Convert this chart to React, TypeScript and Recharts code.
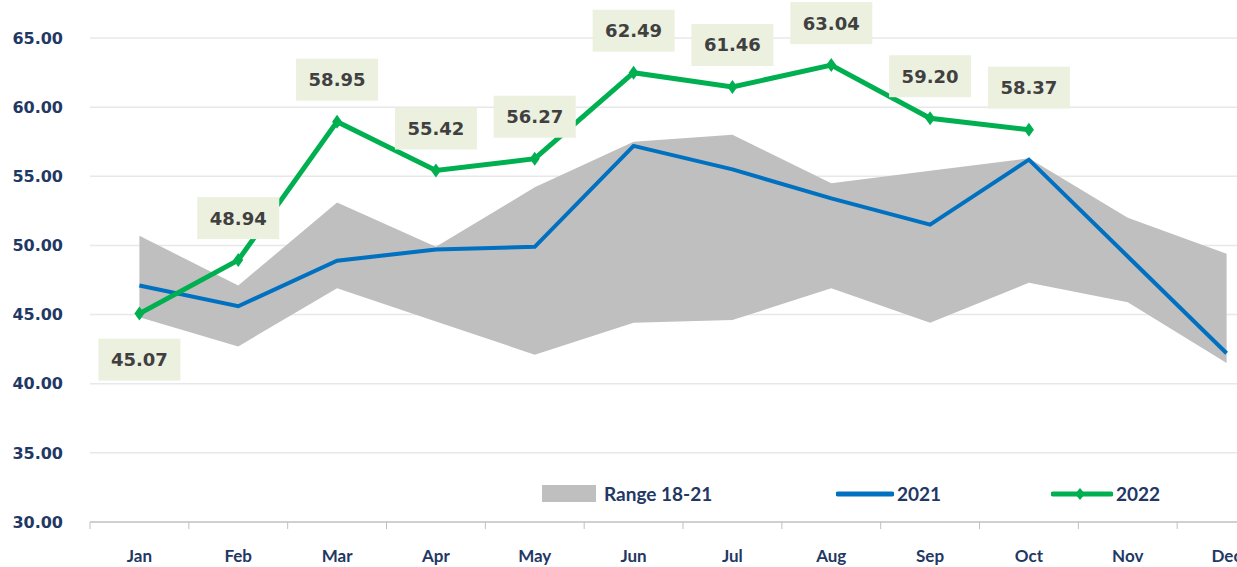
import React from "react";
import {
  ComposedChart,
  Area,
  Line,
  XAxis,
  YAxis,
  CartesianGrid,
  LabelList,
} from "recharts";

const months = ["Jan", "Feb", "Mar", "Apr", "May", "Jun", "Jul", "Aug", "Sep", "Oct", "Nov", "Dec"];
const rangeLow = [44.8, 42.7, 46.9, 44.5, 42.1, 44.4, 44.6, 46.9, 44.4, 47.3, 45.9, 41.5];
const rangeHigh = [50.7, 47.1, 53.1, 49.9, 54.2, 57.5, 58.0, 54.5, 55.4, 56.3, 52.0, 49.4];
const values2021 = [47.1, 45.6, 48.9, 49.7, 49.9, 57.2, 55.5, 53.4, 51.5, 56.2, 49.2, 42.2];
const values2022 = [45.07, 48.94, 58.95, 55.42, 56.27, 62.49, 61.46, 63.04, 59.2, 58.37, null, null];
const yTicks = [30, 35, 40, 45, 50, 55, 60, 65];

const data = months.map((m, i) => ({
  month: m,
  range: [rangeLow[i], rangeHigh[i]],
  y2021: values2021[i],
  y2022: values2022[i],
}));

const NAVY = "#1F3864";
const BLUE = "#0070C0";
const GREEN = "#00B050";
const BAND = "#BFBFBF";
const HALF_BAND = 49.4;

const MonthTick = (props: any) => {
  const { x, y, payload } = props;
  return (
    <g>
      <line x1={x - HALF_BAND} x2={x - HALF_BAND} y1={y - 8} y2={y - 1} stroke="#BFBFBF" strokeWidth={1} />
      <text
        x={x}
        y={y + 25}
        textAnchor="middle"
        dominantBaseline="central"
        fill={NAVY}
        fontFamily="Lato, sans-serif"
        fontWeight="bold"
        fontSize={17}
      >
        {payload.value}
      </text>
    </g>
  );
};

const ValueLabel = (props: any) => {
  const { x, y, value, index } = props;
  if (value == null) return null;
  const cy = index === 0 ? y + 46 : y - 42;
  const w = 82;
  const h = 42;
  return (
    <g>
      <rect x={x - w / 2} y={cy - h / 2} width={w} height={h} fill="#ECF0DF" />
      <text
        x={x}
        y={cy}
        textAnchor="middle"
        dominantBaseline="central"
        fill="#404040"
        fontFamily="'DejaVu Sans', sans-serif"
        fontWeight="bold"
        fontSize={18}
      >
        {Number(value).toFixed(2)}
      </text>
    </g>
  );
};

const LegendBox = () => (
  <div
    style={{
      position: "absolute",
      left: 542,
      top: 482,
      display: "flex",
      alignItems: "center",
      fontFamily: "Lato, sans-serif",
      fontWeight: "bold",
      fontSize: 19,
      color: NAVY,
    }}
  >
    <span style={{ width: 54, height: 17, background: BAND, display: "inline-block", marginRight: 8 }} />
    <span style={{ width: 232 }}>Range 18-21</span>
    <svg width={58} height={12} style={{ marginRight: 3 }}>
      <line x1={2} x2={56} y1={6} y2={6} stroke={BLUE} strokeWidth={5} strokeLinecap="round" />
    </svg>
    <span style={{ width: 154 }}>2021</span>
    <svg width={62} height={14} style={{ marginRight: 3 }}>
      <line x1={2} x2={60} y1={7} y2={7} stroke={GREEN} strokeWidth={5} strokeLinecap="round" />
      <polygon points="29,1 34,7 29,13 24,7" fill={GREEN} />
    </svg>
    <span>2022</span>
  </div>
);

export default function App() {
  return (
    <div
      style={{
        position: "fixed",
        left: 0,
        top: 0,
        width: 1237,
        height: 567,
        overflow: "hidden",
        background: "#fff",
      }}
    >
      <ComposedChart
        width={1290}
        height={567}
        data={data}
        margin={{ top: 38, right: 14, left: 0, bottom: 0 }}
      >
        <CartesianGrid horizontal vertical={false} stroke="#E8E8E8" strokeWidth={1.5} />
        <XAxis
          dataKey="month"
          height={45}
          padding={{ left: HALF_BAND, right: HALF_BAND }}
          axisLine={{ stroke: "#D0D0D0", strokeWidth: 2 }}
          tickLine={false}
          tick={<MonthTick />}
          interval={0}
        />
        <YAxis
          width={90}
          domain={[30, 65]}
          ticks={yTicks}
          axisLine={false}
          tickLine={false}
          tickMargin={21}
          tickFormatter={(v: number) => v.toFixed(2)}
          tick={{ fill: NAVY, fontFamily: "'DejaVu Sans', sans-serif", fontWeight: "bold", fontSize: 16 }}
        />
        <Area
          dataKey="range"
          name="Range 18-21"
          type="linear"
          fill={BAND}
          fillOpacity={1}
          stroke="none"
          isAnimationActive={false}
        />
        <Line
          dataKey="y2021"
          name="2021"
          type="linear"
          stroke={BLUE}
          strokeWidth={4}
          dot={false}
          isAnimationActive={false}
        />
        <Line
          dataKey="y2022"
          name="2022"
          type="linear"
          stroke={GREEN}
          strokeWidth={5}
          connectNulls={false}
          dot={(p: any) =>
            p.value == null ? (
              <g key={p.index} />
            ) : (
              <polygon
                key={p.index}
                points={`${p.cx},${p.cy - 7} ${p.cx + 5},${p.cy} ${p.cx},${p.cy + 7} ${p.cx - 5},${p.cy}`}
                fill={GREEN}
              />
            )
          }
          isAnimationActive={false}
        >
          <LabelList dataKey="y2022" content={<ValueLabel />} />
        </Line>
      </ComposedChart>
      <LegendBox />
    </div>
  );
}
